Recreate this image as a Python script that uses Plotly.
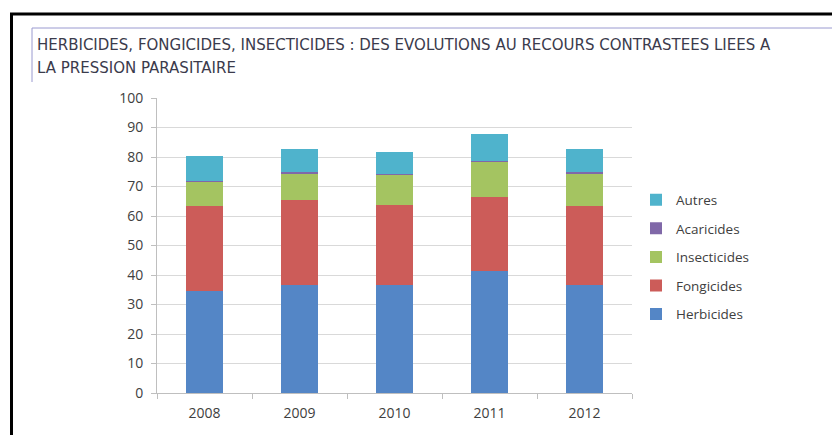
import plotly.graph_objects as go

years = ["2008", "2009", "2010", "2011", "2012"]
herbicides = [34.7, 36.7, 36.7, 41.5, 36.7]
fongicides = [28.6, 28.6, 27.1, 24.8, 26.8]
insecticides = [8.4, 9.2, 10.1, 12.2, 11.0]
acaricides = [0.3, 0.3, 0.3, 0.3, 0.3]
autres = [8.2, 8.0, 7.4, 9.0, 7.9]

series = [
    ("Herbicides", herbicides, "#5486c6", 5),
    ("Fongicides", fongicides, "#cc5c59", 4),
    ("Insecticides", insecticides, "#a4c461", 3),
    ("Acaricides", acaricides, "#8068a8", 2),
    ("Autres", autres, "#4fb3cc", 1),
]

OFF = 8  # page body margin
W, H = 840 - OFF, 435 - OFF
L, R, T, B = 157 - OFF, 208, 98 - OFF, 42
PW, PH = W - L - R, H - T - B

def px(x):
    return (x - OFF - L) / PW

def py(y):
    return (H - B - (y - OFF)) / PH

fig = go.Figure()
for name, vals, col, rank in series:
    fig.add_trace(go.Bar(x=years, y=vals, name=name, marker_color=col,
                         marker_line_width=0, legendgroup=name, legendrank=rank))

shapes = [
    dict(type="line", xref="paper", yref="paper", x0=px(11.5), x1=px(11.5), y0=py(13), y1=py(440),
         line=dict(color="black", width=3)),
    dict(type="line", xref="paper", yref="paper", x0=px(10), x1=px(845), y0=py(14), y1=py(14),
         line=dict(color="black", width=3)),
    dict(type="line", xref="paper", yref="paper", x0=px(32), x1=px(32), y0=py(28), y1=py(82),
         line=dict(color="#9a9ad0", width=1)),
    dict(type="line", xref="paper", yref="paper", x0=px(32), x1=px(833), y0=py(28), y1=py(28),
         line=dict(color="#9a9ad0", width=1)),
]

title_font = dict(family="DejaVu Sans", size=15, color="#3b3b4c")
annotations = [
    dict(text="HERBICIDES, FONGICIDES, INSECTICIDES : DES EVOLUTIONS AU RECOURS CONTRASTEES LIEES A",
         xref="paper", yref="paper", x=px(35), y=py(45), xanchor="left", yanchor="middle",
         showarrow=False, font=title_font),
    dict(text="LA PRESSION PARASITAIRE",
         xref="paper", yref="paper", x=px(35), y=py(68), xanchor="left", yanchor="middle",
         showarrow=False, font=title_font),
]

fig.update_layout(
    width=W, height=H,
    margin=dict(l=L, r=R, t=T, b=B, autoexpand=False),
    barmode="stack", bargap=0.61,
    paper_bgcolor="white", plot_bgcolor="white",
    font=dict(family="Open Sans", size=14, color="#404040"),
    showlegend=True,
    legend=dict(x=px(636), y=py(257), xanchor="left", yanchor="middle",
                traceorder="grouped", tracegroupgap=8,
                font=dict(size=13.5, color="#404040"), itemwidth=30),
    shapes=shapes, annotations=annotations,
    xaxis=dict(showgrid=False, showline=True, linecolor="#bfbfbf", ticks="outside",
               tickson="boundaries", ticklen=5, tickcolor="#bfbfbf", ticklabelstandoff=7,
               tickfont=dict(size=14, color="#404040")),
    yaxis=dict(range=[0, 100], dtick=10, showgrid=True, gridcolor="#d9d9d9",
               showline=True, linecolor="#bfbfbf", ticks="outside", ticklen=5,
               tickcolor="#bfbfbf", ticklabelstandoff=5, zeroline=False,
               tickfont=dict(size=14, color="#404040")),
)

fig.write_html("out.html")
